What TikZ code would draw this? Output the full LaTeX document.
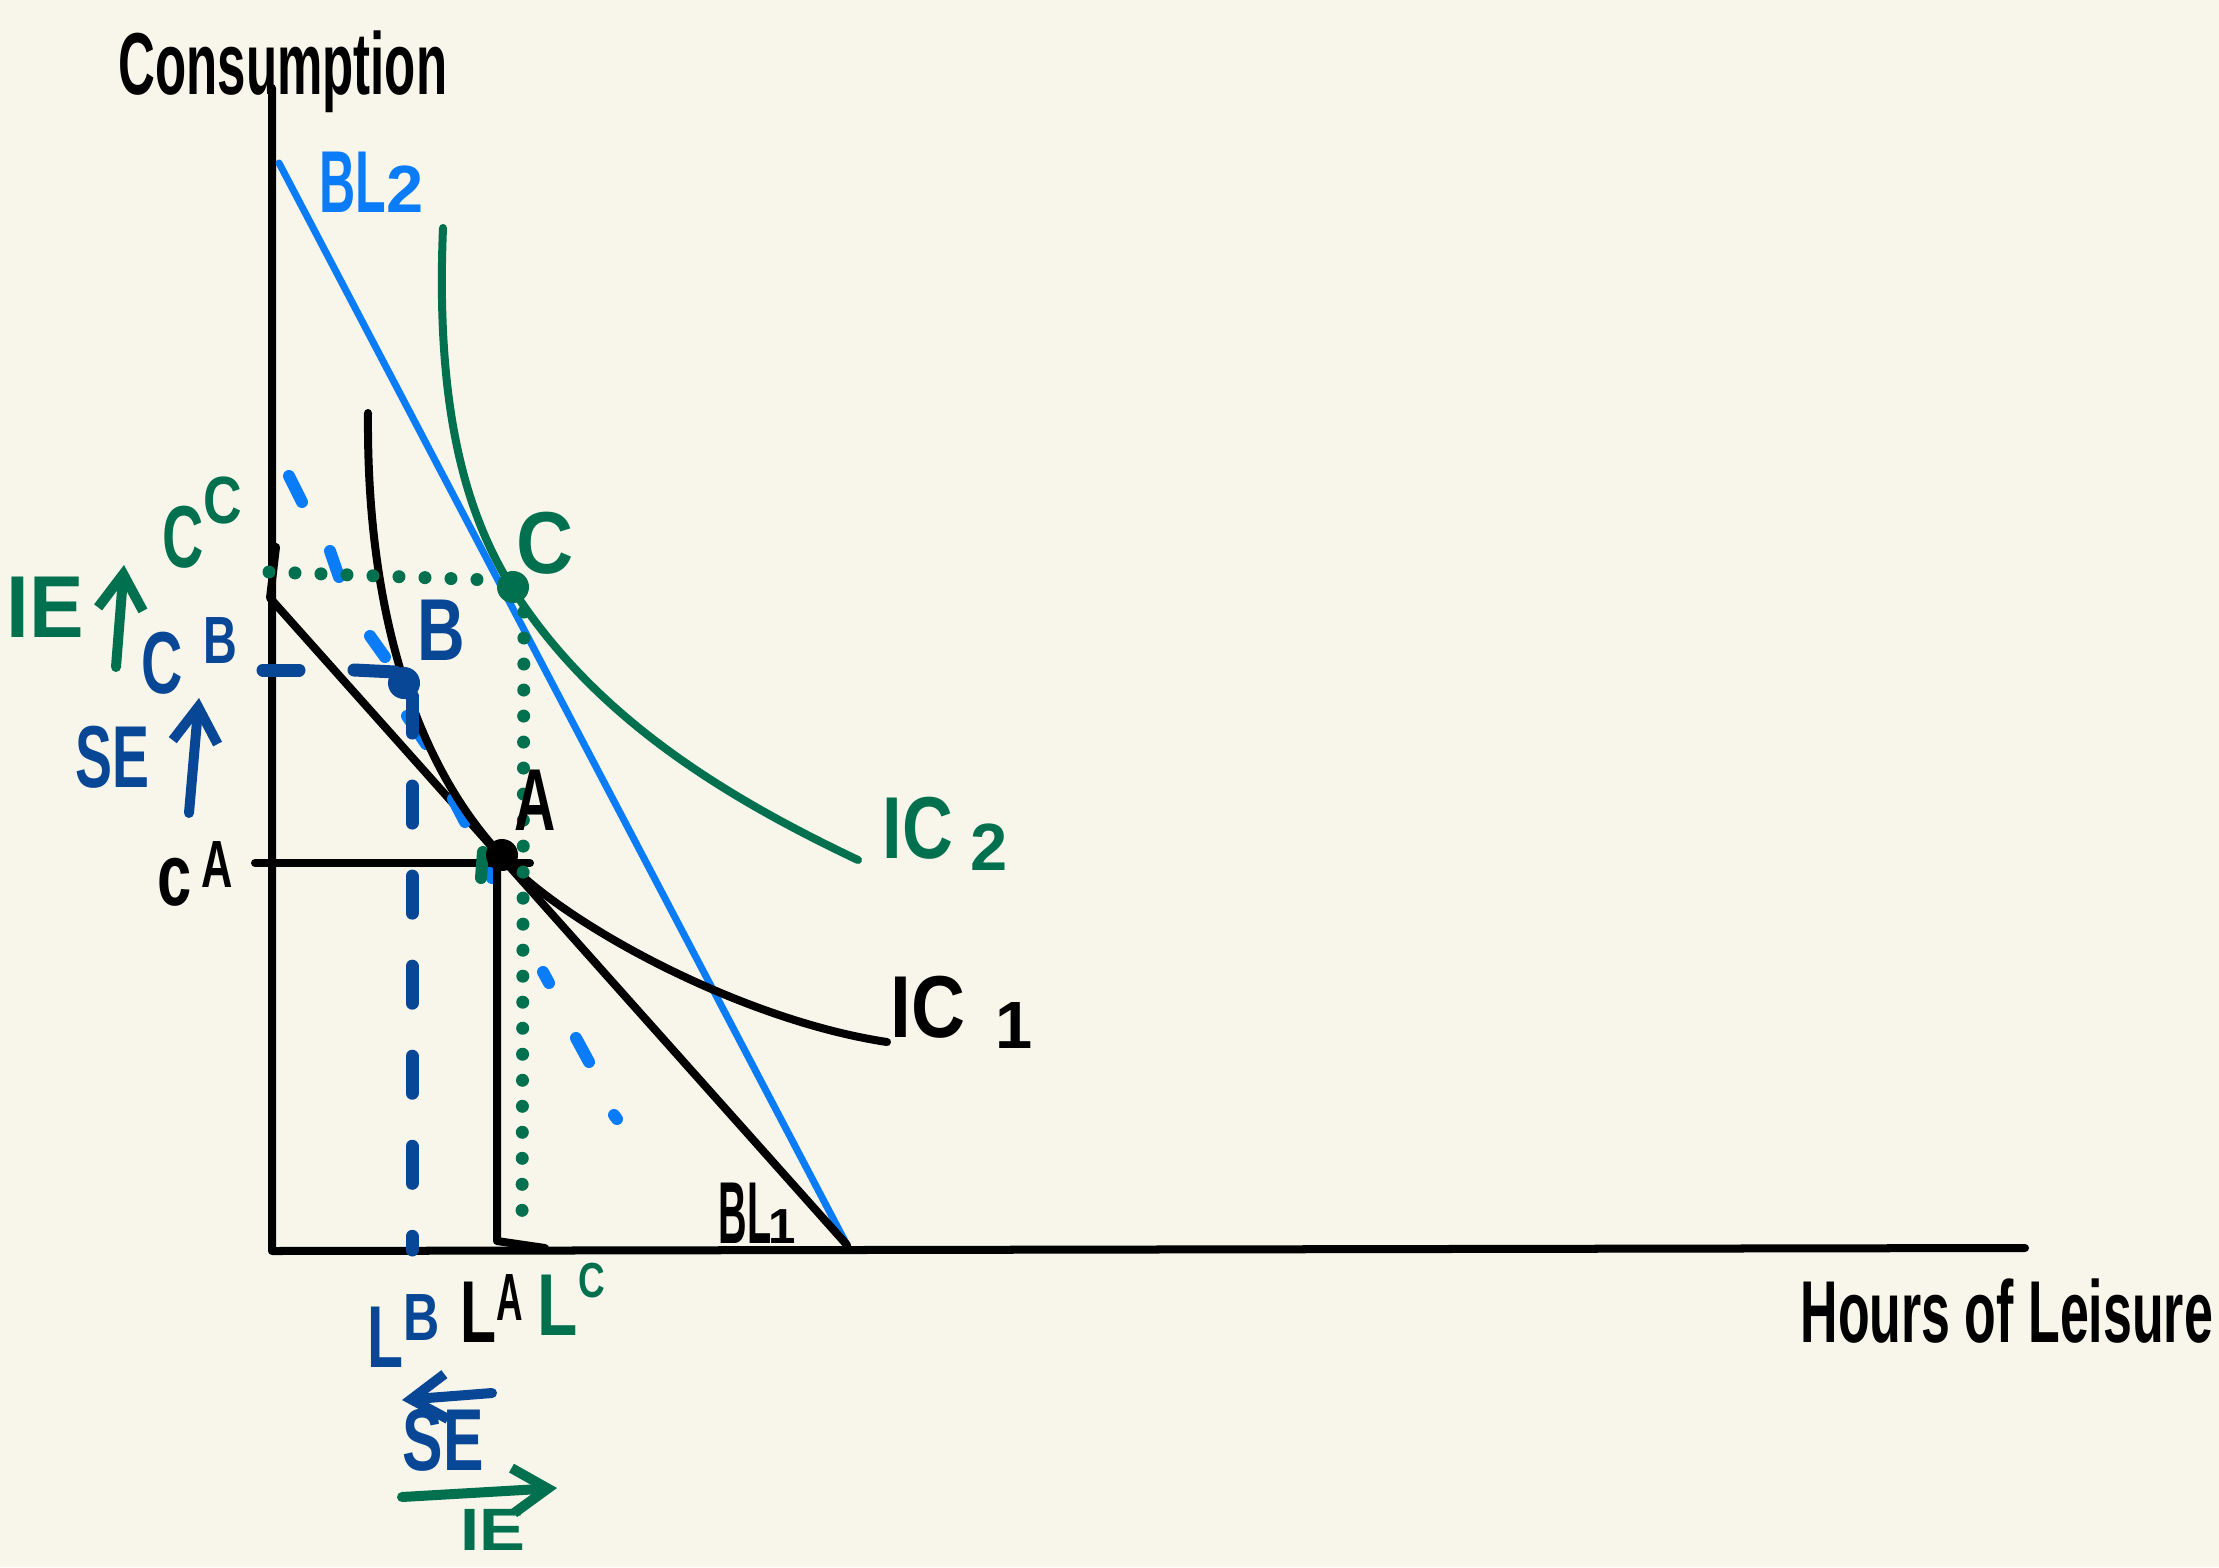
\documentclass[tikz,border=0pt]{standalone}
\usepackage{fontspec}
\setmainfont{Liberation Sans}
\usepackage{graphicx}
\usetikzlibrary{arrows.meta}
\definecolor{bg}{HTML}{F8F6EA}
\definecolor{grn}{HTML}{00704F}
\definecolor{lblue}{HTML}{0A7CF7}
\definecolor{dblue}{HTML}{084696}
\newcommand{\nar}[2]{\scalebox{#1}[1]{#2}}
\begin{document}
\begin{tikzpicture}[x=0.01cm,y=-0.01cm,
  lbl/.style={inner sep=0pt, anchor=base west, font=\fontsize{25}{25}\selectfont\bfseries},
  sm/.style={inner sep=0pt, anchor=base west, font=\fontsize{19}{19}\selectfont\bfseries},
  tiny/.style={inner sep=0pt, anchor=base west, font=\fontsize{14}{14}\selectfont\bfseries},
  ax/.style={line width=0.08cm, line cap=round, line join=round},
  crv/.style={line width=0.08cm, line cap=round},
  dots/.style={line width=0.13cm, line cap=round, dash pattern=on 0pt off 0.26cm},
  arr/.style={line width=0.1cm, line cap=round, -{Straight Barb[length=3.5mm,width=4.5mm]}},
  pt/.style={circle, inner sep=0pt, minimum size=0.32cm}
]
\fill[bg] (0,0) rectangle (2219,1567);
\useasboundingbox (0,0) rectangle (2219,1567);

% axes
\coordinate (Ytop) at (272,88);
\coordinate (O) at (272,1251);
\coordinate (Xend) at (2025,1248);
\draw[ax] (Ytop) -- (O) -- (Xend);

% budget line 2
\coordinate (bl2s) at (279,163);
\coordinate (bl2e) at (847,1245);
\draw[lblue, line width=0.07cm, line cap=round] (bl2s) -- (bl2e);

% budget line 1
\coordinate (bl1k) at (276,547);
\coordinate (bl1s) at (270,598);
\draw[ax] (bl1k) -- (bl1s) -- (bl2e);

% compensated budget line (light blue dashes)
\foreach \a/\b/\c/\d in {289/476/302/502, 330/551/339/577, 370/636/385/657,
  407/716/426/744, 453/799/465/822, 490/870/492/878, 543/972/549/983,
  576/1038/589/1062, 614/1115/617/1119}
  \draw[lblue, line width=0.12cm, line cap=round] (\a,\b) -- (\c,\d);

% points (coordinates)
\coordinate (Apt) at (502,856);
\coordinate (Cpt) at (512,588);

% IC2
\coordinate (ic2s) at (443,228);
\coordinate (ic2e) at (858,860);
\draw[grn, crv] (ic2s) .. controls (435,420) and (470,520) .. (Cpt)
  .. controls (590,710) and (710,790) .. (ic2e);

% IC1
\coordinate (ic1s) at (368,413);
\coordinate (ic1e) at (887,1042);
\draw[crv] (ic1s) .. controls (366,640) and (430,780) .. (Apt)
  .. controls (560,922) and (740,1020) .. (ic1e);

% c^A line and L^A line
\coordinate (cAl) at (255,863);
\coordinate (cAr) at (530,863);
\draw[ax] (cAl) -- (cAr);
\coordinate (LAt) at (497,856);
\coordinate (LAb) at (497,1241);
\coordinate (LAk) at (545,1248);
\draw[ax] (LAt) -- (LAb) -- (LAk);

% dark blue dashes
\coordinate (cB1) at (263,670); \coordinate (cB2) at (299,670);
\coordinate (cB3) at (354,670); \coordinate (cB4) at (395,672);
\draw[dblue, line width=0.13cm, line cap=round] (cB1) -- (cB2);
\draw[dblue, line width=0.13cm, line cap=round] (cB3) -- (cB4);
\coordinate (LBt) at (412,696); \coordinate (LBb) at (412,1250);
\draw[dblue, line width=0.13cm, line cap=round, dash pattern=on 0.37cm off 0.53cm] (LBt) -- (LBb);

% green dotted lines
\coordinate (cC1) at (269,572); \coordinate (cC2) at (490,580);
\draw[grn, dots] (cC1) -- (cC2);
\coordinate (LCt) at (524,612); \coordinate (LCb) at (522,1232);
\draw[grn, dots] (LCt) -- (LCb);

% small green stroke near A
\coordinate (g1) at (483,852); \coordinate (g2) at (481,878);
\draw[grn, line width=0.12cm, line cap=round] (g1) -- (g2);

% points
\node[pt, fill=black] (A) at (502,855) {};
\node[pt, fill=grn] (C) at (513,587) {};
\node[pt, fill=dblue] (B) at (404,683) {};

% axis titles
\node[lbl] (consumption) at (118,95) {\nar{0.58}{Consumption}};
\node[lbl] (hours) at (1800,1342) {\nar{0.59}{Hours of Leisure}};

% point labels
\node[lbl, grn] (Clab) at (516,573) {\nar{0.9}{C}};
\node[lbl, dblue] (Blab) at (417,660) {\nar{0.75}{B}};
\node[lbl] (Alab) at (514,830) {\nar{0.65}{A}};

% budget line labels
\node[lbl, lblue] (bl2) at (319,213) {\nar{0.57}{BL}};
\node[sm, lblue] (bl2sub) at (386,213) {2};
\node[lbl] (bl1) at (718,1243) {\nar{0.45}{BL}};
\node[tiny] (bl1sub) at (768,1243) {1};

% indifference curve labels
\node[lbl, grn] (ic2) at (882,858) {\nar{0.8}{IC}};
\node[sm, grn] (ic2sub) at (970,870) {2};
\node[lbl] (ic1) at (890,1037) {\nar{0.85}{IC}};
\node[sm] (ic1sub) at (995,1048) {1};

% vertical axis quantity labels
\node[lbl, grn] (cC) at (162,567) {\nar{0.65}{C}};
\node[sm, grn] (cCs) at (203,523) {\nar{0.8}{C}};
\node[lbl, dblue] (cB) at (141,693) {\nar{0.65}{C}};
\node[sm, dblue] (cBs) at (203,663) {\nar{0.7}{B}};
\node[lbl] (cA) at (157,905) {\nar{0.7}{c}};
\node[sm] (cAs) at (201,887) {\nar{0.65}{A}};

% effect labels on vertical axis
\node[lbl, grn] (ieL) at (6,637) {\nar{0.93}{IE}};
\coordinate (ieA1) at (116,667); \coordinate (ieA2) at (124,565);
\draw[grn, arr] (ieA1) -- (ieA2);
\node[lbl, dblue] (seL) at (75,787) {\nar{0.63}{SE}};
\coordinate (seA1) at (189,813); \coordinate (seA2) at (199,698);
\draw[dblue, arr] (seA1) -- (seA2);

% horizontal axis quantity labels
\node[lbl, dblue] (LB) at (367,1367) {\nar{0.67}{L}};
\node[sm, dblue] (LBs) at (403,1340) {\nar{0.75}{B}};
\node[lbl] (LA) at (460,1342) {\nar{0.67}{L}};
\node[sm] (LAs) at (496,1320) {\nar{0.55}{A}};
\node[lbl, grn] (LC) at (537,1335) {\nar{0.75}{L}};
\node[tiny, grn] (LCs) at (578,1297) {\nar{0.75}{C}};

% effect arrows below horizontal axis
\coordinate (seB1) at (492,1393); \coordinate (seB2) at (402,1400);
\draw[dblue, arr] (seB1) -- (seB2);
\node[lbl, dblue] (seB) at (402,1470) {\nar{0.69}{SE}};
\coordinate (ieB1) at (402,1497); \coordinate (ieB2) at (557,1488);
\draw[grn, arr] (ieB1) -- (ieB2);
\node[inner sep=0pt, anchor=base west, font=\fontsize{17}{17}\selectfont\bfseries, grn] (ieB) at (460,1550) {\nar{1.15}{IE}};
\end{tikzpicture}
\end{document}
